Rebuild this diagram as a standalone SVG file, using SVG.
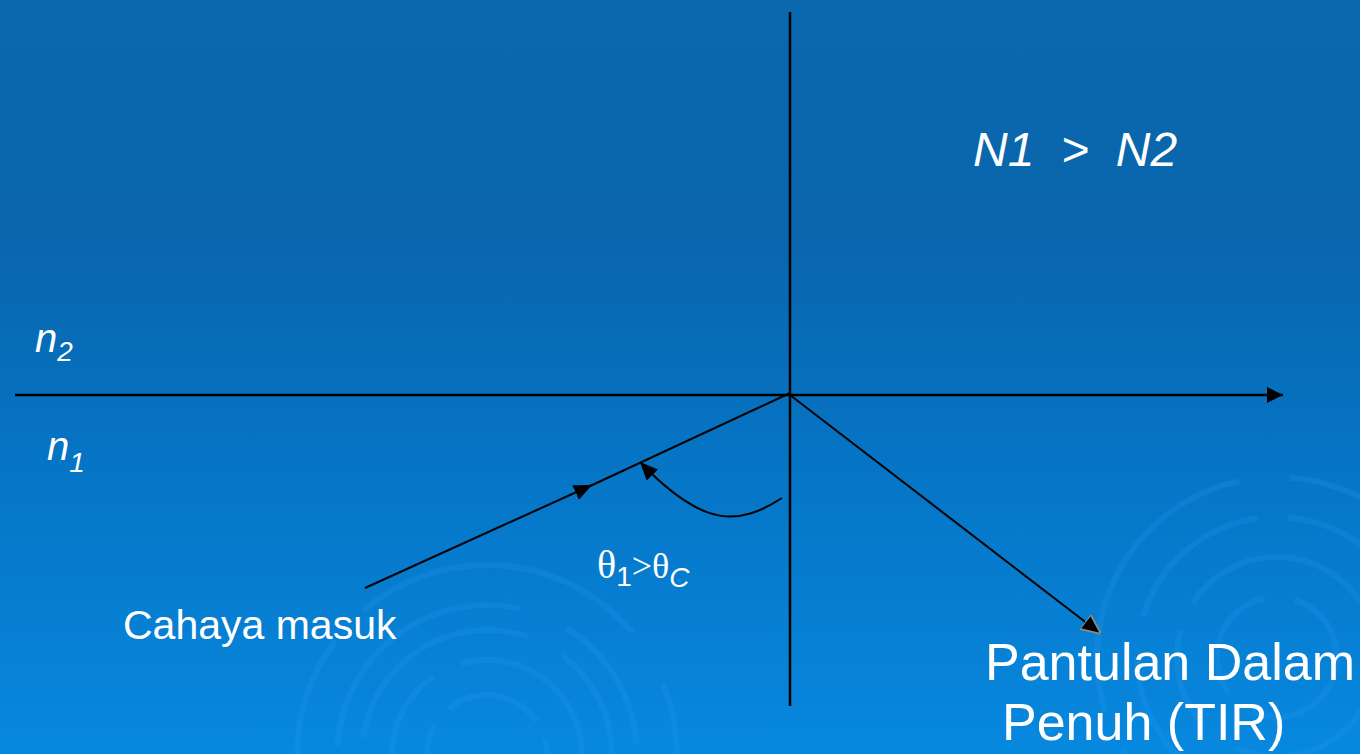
<svg xmlns="http://www.w3.org/2000/svg" width="1360" height="754" viewBox="0 0 1360 754">
  <defs>
    <linearGradient id="bg" x1="0" y1="0" x2="0" y2="1">
      <stop offset="0" stop-color="#0A68AE"/>
      <stop offset="0.3" stop-color="#0A65AC"/>
      <stop offset="0.6" stop-color="#0674C4"/>
      <stop offset="1" stop-color="#0788DF"/>
    </linearGradient>
    <marker id="ah" viewBox="0 0 10 10" refX="10" refY="5" markerWidth="18" markerHeight="16" markerUnits="userSpaceOnUse" orient="auto" preserveAspectRatio="none">
      <path d="M0,0 L10,5 L0,10 z" fill="#000"/>
    </marker>
    <marker id="ahBig" viewBox="0 0 10 10" refX="10" refY="5" markerWidth="16" markerHeight="16" markerUnits="userSpaceOnUse" orient="auto">
      <path d="M0,0 L10,5 L0,10 z" fill="#000"/>
    </marker>
    <marker id="ahGray" viewBox="0 0 10 10" refX="10" refY="5" markerWidth="20" markerHeight="18" markerUnits="userSpaceOnUse" orient="auto" preserveAspectRatio="none">
      <path d="M0,0 L10,5 L0,10 z" fill="#000" stroke="#8a8a8a" stroke-width="1"/>
    </marker>
    <style>
      .ax { stroke:#000; stroke-width:2.5; fill:none; }
      .ray { stroke:#000; stroke-width:2; fill:none; }
      .sw { fill:none; stroke:#2A9BF0; stroke-opacity:0.22; stroke-width:6; }
      .comic { font-family:"Liberation Sans","DejaVu Sans",sans-serif; fill:#fff; }
      .sans { font-family:"Liberation Sans","DejaVu Sans",sans-serif; fill:#fff; }
      .serif { font-family:"Liberation Serif","DejaVu Serif",serif; fill:#fff; }
    </style>
  </defs>
  <rect width="1360" height="754" fill="url(#bg)"/>
  <g id="swirls">
    <circle class="sw" cx="1277" cy="657" r="60" stroke-dasharray="120 30"/>
    <circle class="sw" cx="1277" cy="657" r="100" stroke-dasharray="200 40 100 30"/>
    <circle class="sw" cx="1277" cy="657" r="140" stroke-dasharray="160 30 250 40"/>
    <circle class="sw" cx="1277" cy="657" r="180" stroke-dasharray="300 50 120 40"/>
    <circle class="sw" cx="487" cy="755" r="60" stroke-dasharray="100 20"/>
    <circle class="sw" cx="487" cy="755" r="95" stroke-dasharray="180 30"/>
    <circle class="sw" cx="487" cy="755" r="125" stroke-dasharray="220 40 120 30"/>
    <circle class="sw" cx="487" cy="755" r="150" stroke-dasharray="260 50 140 30"/>
    <circle class="sw" cx="487" cy="755" r="190" stroke-dasharray="160 40 300 60"/>
  </g>
  <g id="connectors">
    <line id="normal" class="ax" x1="790" y1="12" x2="790" y2="706"/>
    <line id="interface" class="ax" x1="15" y1="395" x2="1283" y2="395" marker-end="url(#ahBig)"/>
    <line id="incident" class="ray" x1="365" y1="588" x2="592" y2="485" marker-end="url(#ah)"/>
    <line id="incident2" class="ray" x1="588" y1="487" x2="790" y2="393"/>
    <line id="reflected" class="ray" stroke-width="1.6" x1="790" y1="395" x2="1101" y2="634" marker-end="url(#ahGray)"/>
    <path id="anglearc" class="ray" d="M782,498 C740,525 705,530 640,462" marker-end="url(#ah)"/>
  </g>
  <g id="label-ratio">
    <text class="sans" x="973" y="166" font-size="48" font-style="italic" xml:space="preserve">N1  &gt;  N2</text>
  </g>
  <g id="label-n2">
    <text class="comic" x="35" y="352" font-size="40" font-style="italic">n<tspan font-size="28" dy="9">2</tspan></text>
  </g>
  <g id="label-n1">
    <text class="comic" x="47" y="460" font-size="40" font-style="italic">n<tspan font-size="28" dy="12">1</tspan></text>
  </g>
  <g id="label-angle">
    <text class="serif" x="597" y="578" font-size="40">θ<tspan class="comic" font-size="28" dy="8">1</tspan><tspan dy="-8" font-size="36">&gt;θ</tspan><tspan class="comic" font-size="28" font-style="italic" dy="9">C</tspan></text>
  </g>
  <g id="label-incoming">
    <text class="comic" x="123" y="639" font-size="41">Cahaya masuk</text>
  </g>
  <g id="label-tir">
    <text class="sans" x="985" y="680" font-size="52">Pantulan Dalam</text>
    <text class="sans" x="1002" y="740" font-size="52">Penuh (TIR)</text>
  </g>
</svg>
